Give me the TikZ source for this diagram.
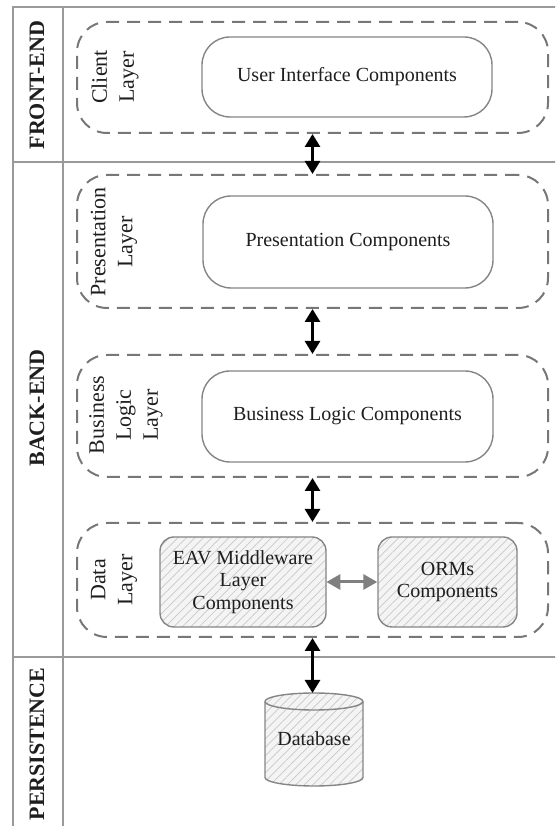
\documentclass[tikz,border=0pt]{standalone}
\usepackage{fontspec}
\setmainfont{Liberation Serif}
\usetikzlibrary{arrows.meta,patterns.meta}
\definecolor{framegray}{HTML}{9A9A9A}
\definecolor{dashgray}{HTML}{777777}
\definecolor{boxgray}{HTML}{858585}
\definecolor{textcol}{HTML}{1E1E1E}
\definecolor{hatchbg}{HTML}{F4F4F4}
\definecolor{hatchline}{HTML}{C8C8C8}
\definecolor{arrowgray}{HTML}{808080}
\newcommand{\compfont}{\fontsize{20}{22.5}\selectfont}
\newcommand{\layerfont}{\fontsize{22}{27}\selectfont}
\newcommand{\sidefont}{\fontsize{22}{26}\selectfont\bfseries}
\begin{document}
\begin{tikzpicture}[x=1pt,y=1pt,
  frameline/.style={draw=framegray, line width=1.8pt},
  layerbox/.style={draw=dashgray, line width=2pt, dash pattern=on 13pt off 8pt, rounded corners=30pt, minimum width=471pt, inner sep=0pt},
  compbox/.style={draw=boxgray, line width=1.4pt, rounded corners=28pt, fill=white, font=\compfont, text=textcol, align=center, inner sep=0pt},
  hatchbox/.style={draw=boxgray, line width=1.4pt, rounded corners=14pt, preaction={fill=hatchbg}, pattern={Lines[angle=45,distance=6pt,line width=0.7pt]}, pattern color=hatchline, font=\compfont, text=textcol, align=center, inner sep=0pt},
  hatchfill/.style={draw=boxgray, line width=1.4pt, preaction={fill=hatchbg}, pattern={Lines[angle=45,distance=6pt,line width=0.7pt]}, pattern color=hatchline},
  layerlabel/.style={rotate=90, font=\layerfont, align=center, text=textcol},
  sidelabel/.style={rotate=90, font=\sidefont, text=textcol},
  biarrow/.style={{Triangle[width=15pt,length=13pt]}-{Triangle[width=15pt,length=13pt]}, line width=2.8pt, draw=black},
  grayarrow/.style={{Triangle[width=15pt,length=14pt]}-{Triangle[width=15pt,length=14pt]}, line width=3pt, draw=arrowgray}
]
\useasboundingbox (0,0) rectangle (555,826);
\clip (0,0) rectangle (555,826);
% frame
\draw[frameline] (13,-10) -- (13,819) -- (560,819);
\draw[frameline] (63,-10) -- (63,819);
\draw[frameline] (13,664) -- (560,664);
\draw[frameline] (13,169) -- (560,169);
% side labels
\node[sidelabel] (fe) at (37,741) {FRONT-END};
\node[sidelabel] (be) at (37,418) {BACK-END};
\node[sidelabel] (pe) at (37,82) {PERSISTENCE};
% layer boxes
\node[layerbox, minimum height=111pt] (client) at (312.5,748.5) {};
\node[layerbox, minimum height=133pt] (pres) at (312.5,584.5) {};
\node[layerbox, minimum height=122pt] (bus) at (312.5,410) {};
\node[layerbox, minimum height=114pt] (data) at (312.5,246) {};
% layer labels
\node[layerlabel] (cl) at (115,749) {Client\\Layer};
\node[layerlabel] (pl) at (114,584) {Presentation\\Layer};
\node[layerlabel] (bl) at (126,411) {Business\\Logic\\Layer};
\node[layerlabel] (dl) at (114,246) {Data\\Layer};
% components
\node[compbox, minimum width=290pt, minimum height=80pt] (ui) at (347,749) {User Interface Components};
\node[compbox, minimum width=290pt, minimum height=92pt] (pc) at (348,584) {Presentation Components};
\node[compbox, minimum width=291pt, minimum height=91pt] (bc) at (347.5,409.5) {Business Logic Components};
\node[hatchbox, minimum width=166pt, minimum height=90pt] (eav) at (243,244) {EAV Middleware\\Layer\\Components};
\node[hatchbox, minimum width=139pt, minimum height=90pt] (orm) at (447.5,244) {ORMs\\Components};
% database cylinder
\path[hatchfill] (265,124.5) -- (265,48.5) arc[start angle=180, end angle=360, x radius=49, y radius=8.5] -- (363,124.5) arc[start angle=0, end angle=180, x radius=49, y radius=8.5] -- cycle;
\draw[draw=boxgray, line width=1.4pt] (265,124.5) arc[start angle=180, end angle=360, x radius=49, y radius=8.5];
\coordinate (dbtop) at (312.5,133);
\node[font=\compfont, text=textcol] (db) at (314,87) {Database};
% connectors
\draw[biarrow] (client.south) -- (pres.north);
\draw[biarrow] (pres.south) -- (bus.north);
\draw[biarrow] (bus.south) -- (data.north);
\draw[biarrow] (data.south) -- (dbtop);
\draw[grayarrow] (eav.east) -- (orm.west);
\end{tikzpicture}
\end{document}
